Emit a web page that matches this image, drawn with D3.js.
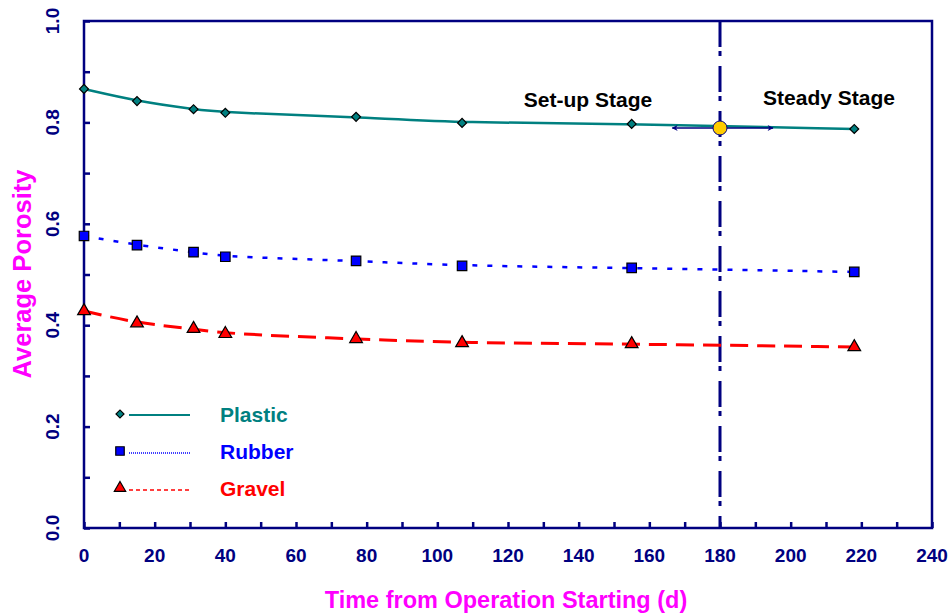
<!DOCTYPE html>
<html><head><meta charset="utf-8">
<script src="https://cdn.jsdelivr.net/npm/d3@7/dist/d3.min.js"></script>
<style>body{margin:0;background:#fff}svg{display:block;font-family:"Liberation Sans",Arial,sans-serif}</style>
</head><body><svg id="c" width="951" height="616"></svg>
<script>
const days = [0, 15, 31, 40, 77, 107, 155, 218];
const plastic = [0.866, 0.842, 0.826, 0.819, 0.811, 0.799, 0.797, 0.787];
const rubber  = [0.576, 0.558, 0.544, 0.535, 0.527, 0.517, 0.513, 0.505];
const gravel  = [0.428, 0.404, 0.393, 0.383, 0.373, 0.365, 0.363, 0.357];
const xTicks = [0,20,40,60,80,100,120,140,160,180,200,220,240];
const yTicks = [0.0,0.2,0.4,0.6,0.8,1.0];
const stageDay = 180, stagePorosity = 0.789;

const svg = d3.select("#c");
const L=84, R=932, T=21, B=528;
const x = d3.scaleLinear().domain([0,240]).range([L,R]);
const y = d3.scaleLinear().domain([0,1]).range([B,T]);
const navy="#000080";

svg.append("rect").attr("x",L).attr("y",T).attr("width",R-L).attr("height",B-T)
  .attr("fill","none").attr("stroke",navy).attr("stroke-width",2.5);

const xa = svg.append("g").attr("transform",`translate(0,${B})`)
  .call(d3.axisBottom(x).tickValues(d3.range(0,241,10)).tickSizeInner(-6).tickSizeOuter(0).tickFormat(""));
xa.select(".domain").remove();
xa.selectAll("line").attr("stroke",navy).attr("stroke-width",2.5);
svg.append("g").selectAll("text").data(xTicks).join("text")
  .attr("x",d=>x(d)).attr("y",B+34).attr("text-anchor","middle")
  .attr("fill",navy).attr("font-weight","bold").attr("font-size",19).text(d=>d);

const ya = svg.append("g").attr("transform",`translate(${L},0)`)
  .call(d3.axisLeft(y).tickValues(d3.range(0,1.01,0.1)).tickSizeInner(-6).tickSizeOuter(0).tickFormat(""));
ya.select(".domain").remove();
ya.selectAll("line").attr("stroke",navy).attr("stroke-width",2.5);
svg.append("g").selectAll("text").data(yTicks).join("text")
  .attr("transform",d=>`translate(${L-25},${y(d)}) rotate(-90)`).attr("text-anchor","middle")
  .attr("fill",navy).attr("font-weight","bold").attr("font-size",19).text(d=>d.toFixed(1));

svg.append("text").attr("x",506).attr("y",608).attr("text-anchor","middle")
  .attr("fill","#ff00ff").attr("font-weight","bold").attr("font-size",23.5).text("Time from Operation Starting (d)");
svg.append("text").attr("transform",`translate(31,274) rotate(-90)`).attr("text-anchor","middle")
  .attr("fill","#ff00ff").attr("font-weight","bold").attr("font-size",25.5).text("Average Porosity");

svg.append("line").attr("x1",x(stageDay)).attr("x2",x(stageDay)).attr("y1",T).attr("y2",B)
  .attr("stroke",navy).attr("stroke-width",3).attr("stroke-dasharray","26,4,5,10");

const series = [
  {name:"Plastic", vals:plastic, color:"#008080", dash:null, w:2.5, sym:d3.symbolSquare, rot:45, size:40, fill:"#008080"},
  {name:"Rubber", vals:rubber, color:"#0000ff", dash:"5,10", w:2.5, sym:d3.symbolSquare, rot:0, size:90, fill:"#0000ff"},
  {name:"Gravel", vals:gravel, color:"#ff0000", dash:"18,9", w:3, sym:d3.symbolTriangle, rot:0, size:70, fill:"#ff0000"}
];
const line = d3.line().x(d=>x(d[0])).y(d=>y(d[1])).curve(d3.curveBasis);
series.forEach(s=>{
  const pts = days.map((d,i)=>[d,s.vals[i]]);
  svg.append("path").attr("d",line(pts)).attr("fill","none").attr("stroke",s.color)
    .attr("stroke-width",s.w).attr("stroke-dasharray",s.dash);
  svg.append("g").selectAll("path").data(pts).join("path")
    .attr("transform",d=>`translate(${x(d[0])},${y(d[1])}) rotate(${s.rot})`)
    .attr("d",d3.symbol().type(s.sym).size(s.size)).attr("fill",s.fill).attr("stroke","#000").attr("stroke-width",1.2);
});

const defs = svg.append("defs");
defs.append("marker").attr("id","ah").attr("viewBox","0 0 10 10").attr("refX",9).attr("refY",5)
  .attr("markerWidth",10).attr("markerHeight",6).attr("orient","auto-start-reverse").attr("markerUnits","userSpaceOnUse")
  .append("path").attr("d","M0,0 L10,5 L0,10 L3,5 Z").attr("fill",navy);
const cy = y(stagePorosity);
svg.append("line").attr("x1",x(stageDay)).attr("x2",x(166.5)).attr("y1",cy).attr("y2",cy)
  .attr("stroke",navy).attr("stroke-width",1.5).attr("marker-end","url(#ah)");
svg.append("line").attr("x1",x(stageDay)).attr("x2",x(195)).attr("y1",cy).attr("y2",cy)
  .attr("stroke",navy).attr("stroke-width",1.5).attr("marker-end","url(#ah)");
svg.append("circle").attr("cx",x(stageDay)).attr("cy",cy).attr("r",7)
  .attr("fill","#ffcc00").attr("stroke",navy).attr("stroke-width",1);

svg.append("text").attr("x",588).attr("y",107).attr("text-anchor","middle").attr("font-weight","bold").attr("font-size",21).text("Set-up Stage");
svg.append("text").attr("x",829).attr("y",105).attr("text-anchor","middle").attr("font-weight","bold").attr("font-size",21).text("Steady Stage");

series.forEach((s,i)=>{
  const ly = 414 + i*37;
  svg.append("path").attr("transform",`translate(120,${ly}) rotate(${s.rot})`).attr("d",d3.symbol().type(s.sym).size(s.size*0.8))
    .attr("fill",s.fill).attr("stroke","#000").attr("stroke-width",1.2);
  svg.append("line").attr("x1",129).attr("x2",190).attr("y1",ly+(i==0?1:2)).attr("y2",ly+(i==0?1:2))
    .attr("stroke",s.color).attr("stroke-width",i==0?2:1.5).attr("stroke-dasharray",i==0?null:(i==1?"1,1":"4,3"));
  svg.append("text").attr("x",220).attr("y",ly+8).attr("fill",s.color).attr("font-weight","bold").attr("font-size",21).text(s.name);
});
</script></body></html>
